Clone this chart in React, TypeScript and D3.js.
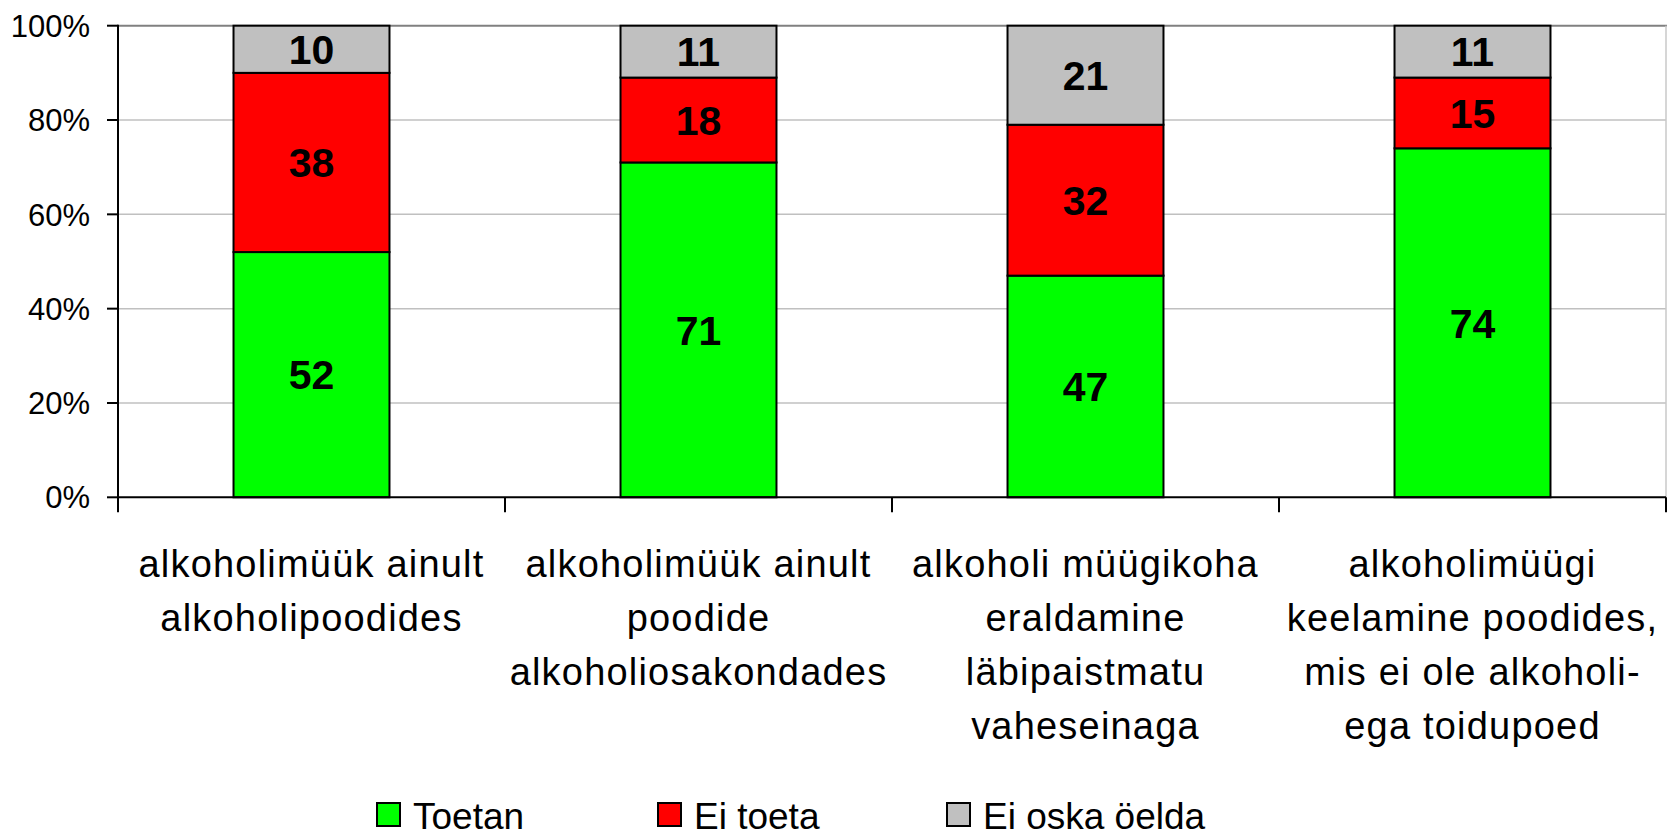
import React, { useEffect } from "react";
import * as d3 from "d3";

const categories = ["c1", "c2", "c3", "c4"];
const categoryLines = [
  ["alkoholimüük ainult", "alkoholipoodides"],
  ["alkoholimüük ainult", "poodide", "alkoholiosakondades"],
  ["alkoholi müügikoha", "eraldamine", "läbipaistmatu", "vaheseinaga"],
  ["alkoholimüügi", "keelamine poodides,", "mis ei ole alkoholi-", "ega toidupoed"],
];
const seriesNames = ["Toetan", "Ei toeta", "Ei oska öelda"];
const toetan = [52, 71, 47, 74];
const eiToeta = [38, 18, 32, 15];
const eiOska = [10, 11, 21, 11];
const seriesColors = ["#00ff00", "#ff0000", "#c0c0c0"];
const yTicks = [0, 20, 40, 60, 80, 100];

const W = 1667;
const H = 830;
const left = 118;
const right = 1666;
const top = 25.7;
const bottom = 497.3;

export default function App() {
  useEffect(() => {
    document.body.style.margin = "0";
  }, []);

  const rows = categories.map((c, i) => ({
    cat: c,
    s0: toetan[i],
    s1: eiToeta[i],
    s2: eiOska[i],
  }));
  const keys = ["s0", "s1", "s2"];
  const stacked = d3.stack<any>().keys(keys)(rows);

  const x = d3
    .scaleBand<string>()
    .domain(categories)
    .range([left, right])
    .paddingInner(0.597)
    .paddingOuter(0.2985);
  const outer = d3.scaleBand<string>().domain(categories).range([left, right]).padding(0);
  const y = d3.scaleLinear().domain([0, 100]).range([bottom, top]);

  const font = "'Liberation Sans', Arial, sans-serif";
  const legendX = [377, 658, 947];

  return (
    <svg
      width={W}
      height={H}
      style={{ position: "absolute", left: 0, top: 0, display: "block", background: "#fff" }}
    >
      {/* gridlines */}
      {yTicks.filter((t) => t > 0 && t < 100).map((t) => (
        <line key={t} x1={left} x2={right} y1={y(t)} y2={y(t)} stroke="#c0c0c0" strokeWidth={1.5} />
      ))}
      <line x1={left} x2={W} y1={y(100)} y2={y(100)} stroke="#808080" strokeWidth={2} />
      <line x1={right} x2={right} y1={y(100)} y2={bottom} stroke="#c8c8c8" strokeWidth={1.5} />

      {/* bars */}
      {stacked.map((layer, si) =>
        layer.map((d, i) => {
          const x0 = x(categories[i])!;
          const y0 = y(d[1]);
          const h = y(d[0]) - y(d[1]);
          return (
            <g key={`${si}-${i}`}>
              <rect x={x0} y={y0} width={x.bandwidth()} height={h} fill={seriesColors[si]} stroke="#000" strokeWidth={2} />
              <text
                x={x0 + x.bandwidth() / 2}
                y={y0 + h / 2}
                dy="0.36em"
                textAnchor="middle"
                fontFamily={font}
                fontWeight="bold"
                fontSize={41}
                fill="#000"
              >
                {d[1] - d[0]}
              </text>
            </g>
          );
        })
      )}

      {/* axes */}
      <line x1={left} x2={right} y1={bottom} y2={bottom} stroke="#000" strokeWidth={2} />
      <line x1={left} x2={left} y1={top - 1} y2={bottom + 15} stroke="#000" strokeWidth={2} />
      {categories.map((c) => (
        <line key={c} x1={outer(c)! + outer.bandwidth()} x2={outer(c)! + outer.bandwidth()} y1={bottom} y2={bottom + 15} stroke="#000" strokeWidth={2} />
      ))}
      {yTicks.map((t) => (
        <g key={t}>
          <line x1={left - 11} x2={left} y1={y(t)} y2={y(t)} stroke="#000" strokeWidth={2} />
          <text x={90} y={y(t)} dy="0.36em" textAnchor="end" fontFamily={font} fontSize={31} fill="#000">
            {t}%
          </text>
        </g>
      ))}

      {/* category labels */}
      {categories.map((c, i) => (
        <text key={c} textAnchor="middle" fontFamily={font} fontSize={38} letterSpacing={1.2} fill="#000">
          {categoryLines[i].map((ln, li) => (
            <tspan key={li} x={outer(c)! + outer.bandwidth() / 2} y={577 + li * 54}>
              {ln}
            </tspan>
          ))}
        </text>
      ))}

      {/* legend */}
      {seriesNames.map((n, i) => (
        <g key={n}>
          <rect x={legendX[i]} y={803} width={23} height={23} fill={seriesColors[i]} stroke="#000" strokeWidth={2} />
          <text x={legendX[i] + 36} y={829} fontFamily={font} fontSize={37} fill="#000">
            {n}
          </text>
        </g>
      ))}
    </svg>
  );
}
